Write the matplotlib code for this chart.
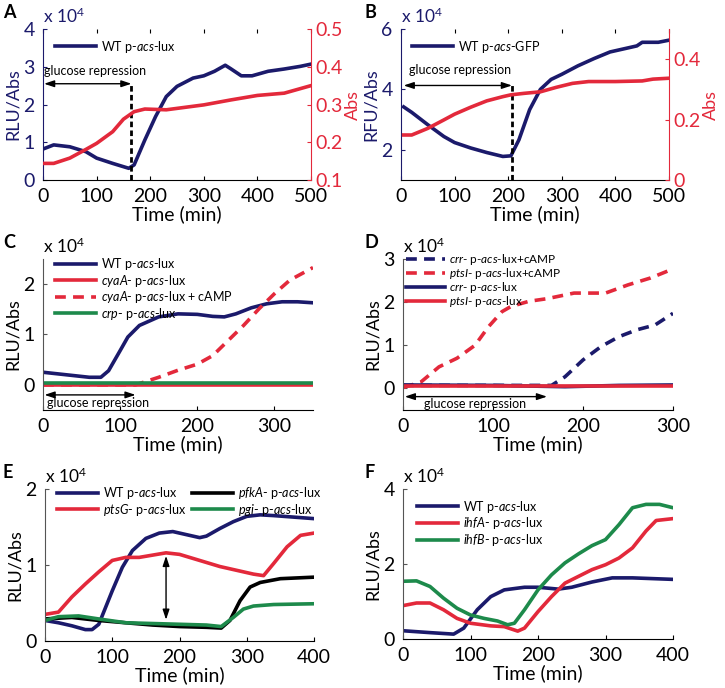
import numpy as np
import matplotlib
matplotlib.use('Agg')
import matplotlib.pyplot as plt

plt.rcParams['font.family'] = ['Lato', 'DejaVu Sans']
plt.rcParams['mathtext.fontset'] = 'custom'
plt.rcParams['mathtext.rm'] = 'Lato'
plt.rcParams['mathtext.it'] = 'Lato:italic'

NAVY = '#1b1a6b'
RED = '#e3293b'
GREEN = '#1d8a4b'
BLACK = '#000000'

# ---------------- data ----------------
# A: WT p-acs-lux (RLU/Abs, x1e4) and Abs
a_t = [0, 20, 50, 80, 100, 130, 160, 170, 190, 210, 230, 250, 280, 300, 320, 340, 350, 370, 390, 420, 450, 480, 500]
a_lux = [0.82, 0.93, 0.88, 0.75, 0.58, 0.44, 0.31, 0.40, 1.06, 1.68, 2.21, 2.48, 2.70, 2.76, 2.88, 3.04, 2.95, 2.76, 2.76, 2.88, 2.94, 3.01, 3.07]
a_abs_t = [0, 20, 50, 80, 100, 130, 150, 170, 190, 230, 300, 350, 400, 450, 500]
a_abs = [0.144, 0.144, 0.158, 0.181, 0.197, 0.228, 0.261, 0.281, 0.288, 0.286, 0.299, 0.312, 0.324, 0.330, 0.350]
a_repress = 165

# B: WT p-acs-GFP (RFU/Abs, x1e4) and Abs
b_t = [5, 20, 50, 80, 100, 130, 160, 190, 205, 220, 240, 260, 280, 300, 330, 360, 390, 420, 440, 450, 480, 500]
b_gfp = [3.42, 3.24, 2.83, 2.44, 2.24, 2.06, 1.91, 1.78, 1.80, 2.33, 3.33, 4.00, 4.33, 4.50, 4.78, 5.02, 5.24, 5.36, 5.44, 5.56, 5.56, 5.63]
b_abs_t = [5, 20, 50, 80, 100, 130, 160, 190, 205, 230, 260, 290, 320, 350, 400, 450, 470, 500]
b_abs = [0.149, 0.149, 0.171, 0.199, 0.218, 0.241, 0.262, 0.276, 0.282, 0.287, 0.292, 0.307, 0.320, 0.326, 0.326, 0.328, 0.334, 0.337]
b_repress = 207

# C
c_wt_t = [0, 30, 60, 75, 85, 100, 110, 125, 150, 175, 200, 220, 235, 250, 270, 290, 310, 330, 350]
c_wt = [0.25, 0.20, 0.15, 0.15, 0.28, 0.68, 0.95, 1.18, 1.35, 1.41, 1.40, 1.36, 1.35, 1.41, 1.53, 1.61, 1.65, 1.65, 1.63]
c_cya_t = [0, 100, 200, 300, 350]
c_cya = [0.0, 0.0, 0.0, 0.0, 0.0]
c_camp_t = [0, 60, 120, 130, 150, 175, 200, 220, 240, 260, 280, 300, 320, 350]
c_camp = [0.0, 0.0, 0.0, 0.05, 0.15, 0.29, 0.41, 0.58, 0.88, 1.18, 1.51, 1.81, 2.08, 2.33]
c_crp_t = [0, 100, 200, 300, 350]
c_crp = [0.03, 0.03, 0.03, 0.03, 0.03]
c_repress = 120

# D
d_crr_camp_t = [0, 60, 120, 165, 180, 200, 220, 240, 260, 280, 300]
d_crr_camp = [0.07, 0.07, 0.07, 0.07, 0.27, 0.66, 0.97, 1.20, 1.36, 1.47, 1.74]
d_pts_camp_t = [0, 20, 40, 60, 80, 95, 110, 120, 140, 160, 190, 210, 225, 250, 275, 300]
d_pts_camp = [0.02, 0.15, 0.50, 0.70, 1.00, 1.43, 1.78, 1.90, 2.02, 2.08, 2.21, 2.21, 2.21, 2.40, 2.56, 2.77]
d_crr_t = [0, 100, 180, 240, 300]
d_crr = [0.08, 0.07, 0.04, 0.07, 0.08]
d_pts_t = [0, 100, 200, 300]
d_pts = [0.06, 0.06, 0.06, 0.06]
d_repress = 160

# E
e_wt_t = [0, 20, 40, 60, 70, 80, 90, 100, 115, 130, 150, 170, 190, 210, 230, 240, 260, 280, 300, 320, 340, 370, 400]
e_wt = [0.27, 0.24, 0.20, 0.15, 0.15, 0.22, 0.44, 0.66, 0.97, 1.19, 1.35, 1.42, 1.44, 1.40, 1.36, 1.38, 1.48, 1.57, 1.64, 1.66, 1.65, 1.63, 1.61]
e_pts_t = [0, 20, 40, 60, 80, 100, 120, 140, 160, 180, 200, 230, 260, 290, 310, 325, 340, 360, 380, 400]
e_pts = [0.35, 0.38, 0.58, 0.75, 0.91, 1.06, 1.10, 1.10, 1.13, 1.16, 1.14, 1.06, 0.98, 0.92, 0.88, 0.86, 1.02, 1.24, 1.39, 1.42]
e_pfk_t = [0, 40, 80, 120, 160, 200, 240, 262, 275, 290, 305, 320, 350, 400]
e_pfk = [0.29, 0.31, 0.27, 0.24, 0.21, 0.19, 0.18, 0.17, 0.27, 0.53, 0.71, 0.77, 0.82, 0.84]
e_pgi_t = [0, 20, 50, 80, 120, 160, 200, 240, 262, 280, 295, 310, 340, 400]
e_pgi = [0.27, 0.32, 0.33, 0.29, 0.24, 0.23, 0.22, 0.21, 0.19, 0.31, 0.42, 0.46, 0.48, 0.49]
e_gap_t = 180
e_gap = [0.28, 1.12]

# F
f_wt_t = [0, 40, 75, 90, 110, 130, 150, 180, 200, 230, 250, 280, 310, 340, 400]
f_wt = [0.22, 0.17, 0.13, 0.29, 0.78, 1.13, 1.31, 1.38, 1.38, 1.33, 1.38, 1.52, 1.63, 1.63, 1.59]
f_ihfa_t = [0, 20, 40, 60, 80, 100, 130, 150, 170, 180, 200, 220, 240, 260, 280, 300, 320, 340, 360, 375, 400]
f_ihfa = [0.89, 0.96, 0.96, 0.78, 0.55, 0.42, 0.35, 0.33, 0.21, 0.29, 0.73, 1.13, 1.49, 1.67, 1.85, 1.98, 2.16, 2.43, 2.88, 3.16, 3.21]
f_ihfb_t = [0, 20, 40, 60, 80, 100, 120, 140, 155, 165, 180, 200, 220, 240, 260, 280, 300, 320, 340, 360, 380, 400]
f_ihfb = [1.54, 1.55, 1.40, 1.09, 0.82, 0.64, 0.55, 0.48, 0.38, 0.42, 0.78, 1.31, 1.71, 2.03, 2.27, 2.49, 2.65, 3.05, 3.50, 3.59, 3.59, 3.50]

# ---------------- figure ----------------
W, H = 725, 688
fig = plt.figure(figsize=(W / 100, H / 100), dpi=100)


def make_ax(l, r, t, b):
    return fig.add_axes([l / W, 1 - b / H, (r - l) / W, (b - t) / H])


LW = 2.6
TICK_FS = 14
LEG_FS = 9


def style(ax, ycolor=BLACK, spine_color='#555555', top=False):
    ax.spines['top'].set_visible(False)
    ax.spines['right'].set_visible(False)
    ax.spines['left'].set_color(spine_color)
    ax.tick_params(direction='in', length=3, labelsize=TICK_FS, top=top)
    ax.tick_params(axis='x', pad=6)
    ax.tick_params(axis='y', colors=spine_color, labelcolor=ycolor, pad=6)
    ax.set_xlabel('Time (min)', fontsize=14, labelpad=0)


def exp_label(ax, color=BLACK):
    ax.text(0.0, 1.02, r'x 10$^{4}$', transform=ax.transAxes, fontsize=12.5,
            color=color, ha='left', va='bottom')


def panel_letter(x, y, s):
    fig.text(x / W, 1 - y / H, s, fontsize=13, fontweight='bold', va='top', ha='left')


def leg(ax, handles_labels, anchor, fs=LEG_FS, spacing=0.05):
    hs = [h for h, _ in handles_labels]
    ls = [l for _, l in handles_labels]
    lg = ax.legend(hs, ls, loc='upper left', bbox_to_anchor=anchor, frameon=False,
                   fontsize=fs, handlelength=3.3, handletextpad=0.4,
                   labelspacing=spacing, borderaxespad=0, borderpad=0)
    lg.set_zorder(5)
    return lg


def dbl_arrow(ax, x0, y0, x1, y1):
    ax.annotate('', xy=(x1, y1), xytext=(x0, y0),
                arrowprops=dict(arrowstyle='<|-|>,head_length=0.6,head_width=0.2',
                                color='black', lw=1.0, shrinkA=0, shrinkB=0))


def right_axis(ax, ylim, ticks, labels):
    ax2 = ax.twinx()
    ax2.set_ylim(*ylim)
    ax2.set_yticks(ticks)
    ax2.set_yticklabels(labels)
    for s in ['top', 'left', 'bottom']:
        ax2.spines[s].set_visible(False)
    ax2.spines['right'].set_color(RED)
    ax2.tick_params(direction='in', length=3, labelsize=TICK_FS, colors=RED, pad=3)
    ax2.set_ylabel('Abs', color=RED, fontsize=13, labelpad=2)
    return ax2


# ---- A ----
ax = make_ax(43, 311, 29, 180)
style(ax, ycolor=NAVY, spine_color=NAVY, top=True)
l1, = ax.plot(a_t, a_lux, color=NAVY, lw=LW)
ax.set_xlim(0, 500)
ax.set_ylim(0, 4)
ax.set_yticks([0, 1, 2, 3, 4])
ax.set_xticks([0, 100, 200, 300, 400, 500])
ax.set_ylabel('RLU/Abs', color=NAVY, fontsize=13, labelpad=2)
ax2 = right_axis(ax, (0.1, 0.5), [0.1, 0.2, 0.3, 0.4, 0.5], ['0.1', '0.2', '0.3', '0.4', '0.5'])
ax2.plot(a_abs_t, a_abs, color=RED, lw=LW)
ax.plot([a_repress, a_repress], [0, 2.55], color='black', lw=2, ls=(0, (2, 1.2)))
dbl_arrow(ax, 2, 2.55, a_repress, 2.55)
ax.text(2, 2.9, 'glucose repression', fontsize=9, ha='left', va='center')
leg(ax, [(l1, r'WT p-$\it{acs}$-lux')], (0.045, 0.935))
exp_label(ax, NAVY)
panel_letter(3, 4, 'A')

# ---- B ----
ax = make_ax(401, 669, 29, 180)
style(ax, ycolor=NAVY, spine_color=NAVY, top=True)
l1, = ax.plot(b_t, b_gfp, color=NAVY, lw=LW)
ax.set_xlim(0, 500)
ax.set_ylim(1, 6)
ax.set_yticks([2, 4, 6])
ax.set_xticks([0, 100, 200, 300, 400, 500])
ax.set_ylabel('RFU/Abs', color=NAVY, fontsize=13, labelpad=2)
ax2 = right_axis(ax, (0, 0.5), [0, 0.2, 0.4], ['0', '0.2', '0.4'])
ax2.plot(b_abs_t, b_abs, color=RED, lw=LW)
ax.plot([b_repress, b_repress], [1, 4.22], color='black', lw=2, ls=(0, (2, 1.2)))
dbl_arrow(ax, 5, 4.13, b_repress, 4.13)
ax.text(110, 4.64, 'glucose repression', fontsize=9, ha='center', va='center')
leg(ax, [(l1, r'WT p-$\it{acs}$-GFP')], (0.04, 0.935))
exp_label(ax, NAVY)
panel_letter(362 + 3, 4, 'B')

# ---- C ----
ax = make_ax(43, 313, 259, 410)
style(ax)
h1, = ax.plot(c_wt_t, c_wt, color=NAVY, lw=LW)
h2, = ax.plot(c_cya_t, c_cya, color=RED, lw=LW)
h3, = ax.plot(c_camp_t, c_camp, color=RED, lw=LW, ls=(0, (3, 2)))
h4, = ax.plot(c_crp_t, c_crp, color=GREEN, lw=LW)
ax.set_xlim(0, 350)
ax.set_ylim(-0.5, 2.5)
ax.set_yticks([0, 1, 2])
ax.set_xticks([0, 100, 200, 300])
ax.set_ylabel('RLU/Abs', fontsize=13, labelpad=2)
dbl_arrow(ax, 2, -0.2, c_repress, -0.2)
ax.text(5, -0.37, 'glucose repression', fontsize=9, ha='left', va='center')
leg(ax, [(h1, r'WT p-$\it{acs}$-lux'), (h2, r'$\it{cyaA}$- p-$\it{acs}$-lux'),
         (h3, r'$\it{cyaA}$- p-$\it{acs}$-lux + cAMP'), (h4, r'$\it{crp}$- p-$\it{acs}$-lux')],
    (0.044, 1.02))
exp_label(ax)
panel_letter(3, 234, 'C')

# ---- D ----
ax = make_ax(403, 673, 259, 410)
style(ax)
h1, = ax.plot(d_crr_camp_t, d_crr_camp, color=NAVY, lw=LW, ls=(0, (3, 2)))
h2, = ax.plot(d_pts_camp_t, d_pts_camp, color=RED, lw=LW, ls=(0, (3, 2)))
h3, = ax.plot(d_crr_t, d_crr, color=NAVY, lw=LW)
h4, = ax.plot(d_pts_t, d_pts, color=RED, lw=LW)
ax.set_xlim(0, 300)
ax.set_ylim(-0.5, 3)
ax.set_yticks([0, 1, 2, 3])
ax.set_xticks([0, 100, 200, 300])
ax.set_ylabel('RLU/Abs', fontsize=13, labelpad=2)
dbl_arrow(ax, 2, -0.19, d_repress, -0.19)
ax.text(80, -0.37, 'glucose repression', fontsize=9, ha='center', va='center')
leg(ax, [(h1, r'$\it{crr}$- p-$\it{acs}$-lux+cAMP'), (h2, r'$\it{ptsI}$- p-$\it{acs}$-lux+cAMP'),
         (h3, r'$\it{crr}$- p-$\it{acs}$-lux'), (h4, r'$\it{ptsI}$- p-$\it{acs}$-lux')],
    (0.01, 1.045), fs=8.5, spacing=-0.1)
exp_label(ax)
panel_letter(362 + 3, 234, 'D')

# ---- E ----
ax = make_ax(45, 314, 489, 641)
style(ax)
h1, = ax.plot(e_wt_t, e_wt, color=NAVY, lw=LW)
h2, = ax.plot(e_pts_t, e_pts, color=RED, lw=LW)
h3, = ax.plot(e_pfk_t, e_pfk, color=BLACK, lw=LW)
h4, = ax.plot(e_pgi_t, e_pgi, color=GREEN, lw=LW)
ax.set_xlim(0, 400)
ax.set_ylim(0, 2)
ax.set_yticks([0, 1, 2])
ax.set_xticks([0, 100, 200, 300, 400])
ax.set_ylabel('RLU/Abs', fontsize=13, labelpad=2)
dbl_arrow(ax, e_gap_t, e_gap[0], e_gap_t, e_gap[1])
lg1 = leg(ax, [(h1, r'WT p-$\it{acs}$-lux'), (h2, r'$\it{ptsG}$- p-$\it{acs}$-lux')], (0.045, 1.025))
ax.add_artist(lg1)
leg(ax, [(h3, r'$\it{pfkA}$- p-$\it{acs}$-lux'), (h4, r'$\it{pgi}$- p-$\it{acs}$-lux')], (0.545, 1.025))
exp_label(ax)
panel_letter(3, 464, 'E')

# ---- F ----
ax = make_ax(403, 673, 489, 639)
style(ax)
h1, = ax.plot(f_wt_t, f_wt, color=NAVY, lw=LW)
h2, = ax.plot(f_ihfa_t, f_ihfa, color=RED, lw=LW)
h3, = ax.plot(f_ihfb_t, f_ihfb, color=GREEN, lw=LW)
ax.set_xlim(0, 400)
ax.set_ylim(0, 4)
ax.set_yticks([0, 2, 4])
ax.set_xticks([0, 100, 200, 300, 400])
ax.set_ylabel('RLU/Abs', fontsize=13, labelpad=2)
leg(ax, [(h1, r'WT p-$\it{acs}$-lux'), (h2, r'$\it{ihfA}$- p-$\it{acs}$-lux'),
         (h3, r'$\it{ihfB}$- p-$\it{acs}$-lux')], (0.052, 0.935))
exp_label(ax)
panel_letter(362 + 3, 464, 'F')

fig.savefig('out.png', dpi=100)
